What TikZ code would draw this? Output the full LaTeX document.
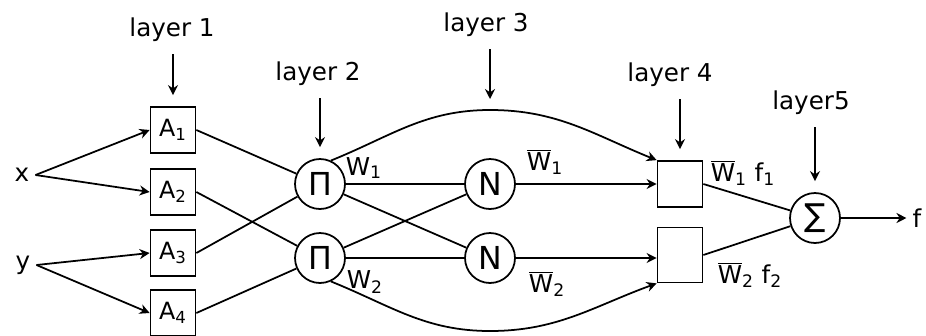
\documentclass[tikz,border=0pt]{standalone}
\usepackage{fontspec}
\setmainfont{DejaVu Sans}
\usepackage{tikz}
\usetikzlibrary{arrows.meta}
\newcommand{\barW}{$\overline{\mbox{W}}$}

\begin{document}
\begin{tikzpicture}[x=0.02cm, y=-0.02cm, every node/.style={font=\fontsize{14}{16}\selectfont}]
    \tikzstyle{mf}=[rectangle, draw, line width=1pt, minimum width=0.9cm, minimum height=0.92cm,
      inner sep=0pt, font=\fontsize{13.5}{15}\selectfont]
    \tikzstyle{neuron}=[circle, draw, line width=1pt, minimum size=1cm, inner sep=0pt,
      font=\fontsize{18}{20}\selectfont]
    \tikzstyle{link}=[line width=1pt]
    \tikzstyle{conn}=[-{Stealth[length=2mm, width=2mm]}, link]
    \tikzstyle{layerarrow}=[conn, shorten <=0.12cm, shorten >=0.22cm]
    \useasboundingbox (0,0) rectangle (926,335);
    % inputs and layer 1
    \node (x) at (22,175) {x};
    \node (y) at (23,265) {y};
    \node[mf] (a1) at (173,130) {A\textsubscript{1}};
    \node[mf] (a2) at (173,192) {A\textsubscript{2}};
    \node[mf] (a3) at (173,253) {A\textsubscript{3}};
    \node[mf] (a4) at (173,313) {A\textsubscript{4}};
    % layers 2 and 3
    \node[neuron] (p1) at (320,184) {Π};
    \node[neuron] (p2) at (320,258) {Π};
    \node[neuron] (n1) at (490,184) {N};
    \node[neuron] (n2) at (490,258) {N};
    % layers 4 and 5
    \node[mf] (q1) at (680,184) {};
    \node[mf, minimum height=1.1cm] (q2) at (680,255) {};
    \node[neuron] (s) at (815,218) {∑};
    \node (f) at (917,218) {f};
    \coordinate (top) at (490,110);
    \coordinate (bot) at (490,331);
    % layer titles
    \node (l1) at (172,30) {layer 1};
    \node (l2) at (318,74) {layer 2};
    \node (l3) at (486,25) {layer 3};
    \node (l4) at (670,75) {layer 4};
    \node (l5) at (811,103) {layer5};
    % weights
    \node (w1) at (364,168) {W\textsubscript{1}};
    \node (w2) at (365,282) {W\textsubscript{2}};
    \node (wb1) at (545,162) {\barW\textsubscript{1}};
    \node (wb2) at (547,284) {\barW\textsubscript{2}};
    \node (wf1) at (743,173) {\barW\textsubscript{1} f\textsubscript{1}};
    \node (wf2) at (750,275) {\barW\textsubscript{2} f\textsubscript{2}};

    \draw[conn] (x.east) -- (a1.west);
    \draw[conn] (x.east) -- (a2.west);
    \draw[conn] (y.east) -- (a3.west);
    \draw[conn] (y.east) -- (a4.west);
    \draw[link] (a1.east) -- (p1);
    \draw[link] (a2.east) -- (p2);
    \draw[link] (a3.east) -- (p1);
    \draw[link] (a4.east) -- (p2);
    \draw[link] (p1) -- (n1);
    \draw[link] (p1) -- (n2);
    \draw[link] (p2) -- (n1);
    \draw[link] (p2) -- (n2);
    \draw[conn] (n1) -- (n1 -| q1.west);
    \draw[conn] (n2) -- (n2 -| q2.west);
    \draw[conn] (p1.65) to[out=22, in=180] (top) to[out=0, in=158] (q1.north west);
    \draw[conn] (p2.-65) to[out=-22, in=180] (bot) to[out=0, in=-160] (q2.south west);
    \draw[link] (q1.east) -- (s);
    \draw[link] (q2.east) -- (s);
    \draw[conn] (s) -- (f);

    \draw[layerarrow] (a1 |- l1.south) -- (a1.north);
    \draw[layerarrow] (p1 |- l2.south) -- (p1.north);
    \draw[layerarrow] (top |- l3.south) -- (top);
    \draw[layerarrow] (q1 |- l4.south) -- (q1.north);
    \draw[layerarrow] (s |- l5.south) -- (s.north);
  \end{tikzpicture}
\end{document}
